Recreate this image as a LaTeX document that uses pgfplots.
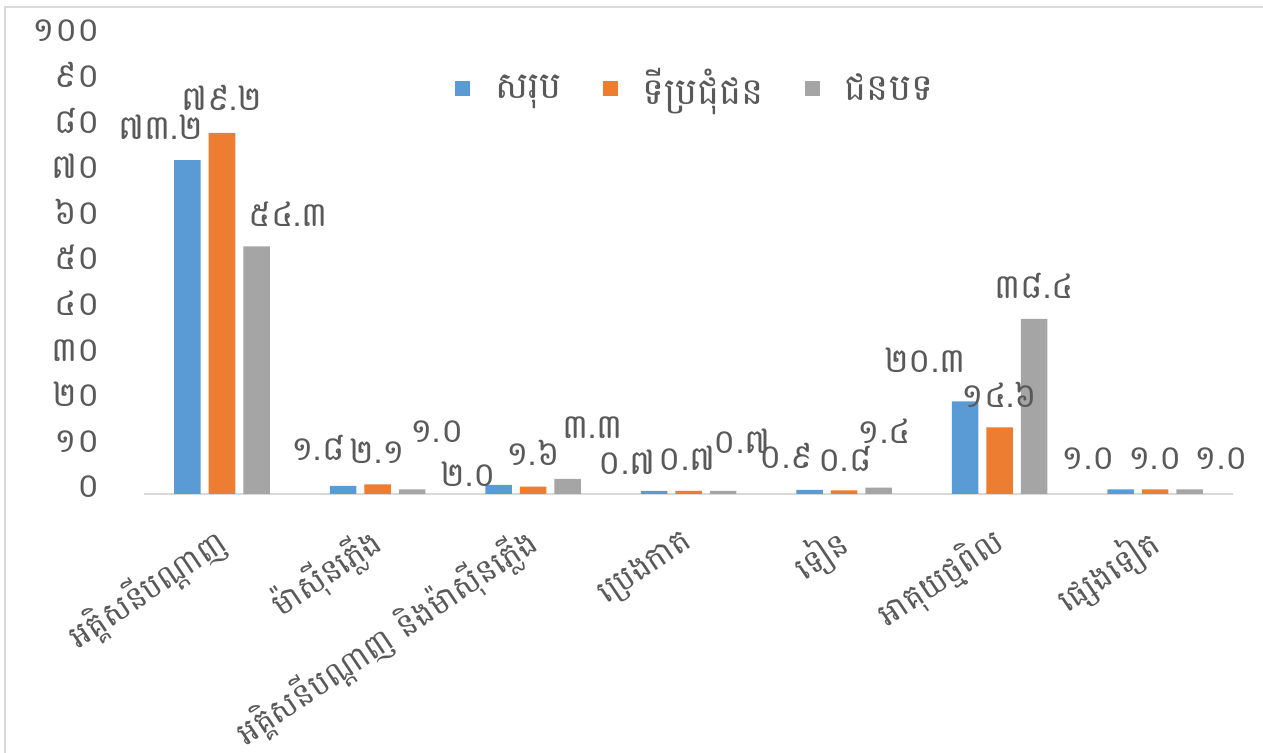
\documentclass[border=0pt]{standalone}
\usepackage{fontspec}
\usepackage{pgfplots}
\usepackage{pgfplotstable}
\pgfplotsset{compat=1.18}
\setmainfont[Script=Khmer]{Battambang}
\definecolor{cBlue}{HTML}{5B9BD5}
\definecolor{cOrange}{HTML}{ED7D31}
\definecolor{cGray}{HTML}{A5A5A5}
\definecolor{cText}{HTML}{595959}
\definecolor{cFrame}{HTML}{D9D9D9}

% dx, dy: offset of the value label (pt) from the top centre of its bar
\pgfplotstableread{
x y label dx dy
1 73.2 ៧៣.២ -13.25 15
2 1.8 ១.៨ -12.5 17
3 2.0 ២.០ -15 3.5
4 0.7 ០.៧ -13.5 12.5
5 0.9 ០.៩ -11.5 15
6 20.3 ២០.៣ -20 19
7 1.0 ១.០ -16 14.5
}\tblBlue
\pgfplotstableread{
x y label dx dy
1 79.2 ៧៩.២ 0 15.5
2 2.1 ២.១ 0 15
3 1.6 ១.៦ 0 15
4 0.7 ០.៧ -0.75 14.5
5 0.8 ០.៨ 0.5 14
6 14.6 ១៤.៦ 0 14.5
7 1.0 ១.០ 0 14.5
}\tblOrange
\pgfplotstableread{
x y label dx dy
1 54.3 ៥៤.៣ 16 14.5
2 1.0 ១.០ 12.5 28
3 3.3 ៣.៣ 12.5 24.5
4 0.7 ០.៧ 9.5 23
5 1.4 ១.៤ 3 26.5
6 38.4 ៣៨.៤ 0 14.5
7 1.0 ១.០ 16 14.5
}\tblGray

\pgfplotsset{
  lbl/.style={draw=none, forget plot, nodes near coords, point meta=explicit symbolic,
    visualization depends on=\thisrow{dx} \as \lblx,
    visualization depends on=\thisrow{dy} \as \lbly,
    every node near coord/.append style={font=\fontsize{17}{19}\selectfont, text=cText,
       anchor=base, inner sep=0pt, xshift=\lblx pt, yshift=\lbly pt-4.5pt}},
}

\begin{document}
\begin{tikzpicture}
\useasboundingbox (0,0) rectangle (631.5pt,376.5pt);
\draw[cFrame, line width=1pt] (2.5pt,-2pt) -- (2.5pt,373pt) -- (634pt,373pt);
\begin{axis}[
  at={(72.125pt,129.5pt)}, anchor=south west,
  scale only axis, width=544.25pt, height=228pt,
  xmin=0.5, xmax=7.5, ymin=0, ymax=100,
  axis x line=bottom, axis y line=left,
  x axis line style={cFrame, line width=0.8pt, -},
  y axis line style={draw=none},
  major tick length=0pt,
  xtick={1,...,7},
  xticklabels={អគ្គិសនីបណ្ដាញ, ម៉ាស៊ីនភ្លើង, អគ្គិសនីបណ្ដាញ និងម៉ាស៊ីនភ្លើង, ប្រេងកាត, ទៀន, អាគុយថ្មពិល, ផ្សេងទៀត},
  ytick={0,10,...,100},
  yticklabels={០,១០,២០,៣០,៤០,៥០,៦០,៧០,៨០,៩០,១០០},
  tick label style={text=cText},
  yticklabel style={font=\fontsize{17}{19}\selectfont, anchor=base east, inner sep=0pt, xshift=-22pt, yshift=-2pt},
  xticklabel style={font=\fontsize{16}{18}\selectfont, inner sep=0pt, xshift=0.5pt, yshift=-22.5pt, rotate=34, anchor=east},
  legend style={at={(0.280,0.890)}, anchor=west, draw=none, fill=none,
    legend columns=3, font=\fontsize{18.5}{21}\selectfont, text=cText,
    /tikz/every odd column/.append style={column sep=10.5pt},
    /tikz/every even column/.append style={column sep=18.5pt}},
  legend image code/.code={\fill[#1,draw=none] (0pt,-3.75pt) rectangle (7.5pt,3.75pt);},
]
\addplot[ybar, bar width=13.25pt, bar shift=-17.25pt, fill=cBlue, draw=none]
  table[x=x, y=y] {\tblBlue};
\addlegendentry{សរុប}
\addplot[ybar, bar width=13.25pt, bar shift=0pt, fill=cOrange, draw=none]
  table[x=x, y=y] {\tblOrange};
\addlegendentry{ទីប្រជុំជន}
\addplot[ybar, bar width=13.25pt, bar shift=17.25pt, fill=cGray, draw=none]
  table[x=x, y=y] {\tblGray};
\addlegendentry{ជនបទ}
% value labels (bar shift 17.25pt = 0.2219 category widths)
\addplot[lbl] table[x expr=\thisrow{x}-0.2219, y=y, meta=label] {\tblBlue};
\addplot[lbl] table[x=x, y=y, meta=label] {\tblOrange};
\addplot[lbl] table[x expr=\thisrow{x}+0.2219, y=y, meta=label] {\tblGray};
\end{axis}
\end{tikzpicture}
\end{document}
